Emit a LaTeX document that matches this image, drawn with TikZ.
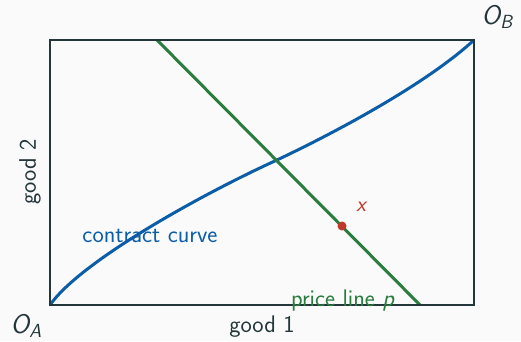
\documentclass[tikz,border=0pt]{standalone}
\definecolor{frame}{HTML}{23373B}
\definecolor{cblue}{HTML}{0B5DA8}
\definecolor{cgreen}{HTML}{2A7D3E}
\definecolor{cred}{HTML}{C0392B}
\definecolor{bg}{HTML}{FAFAFA}
\begin{document}
\begin{tikzpicture}[x=1pt,y=-1pt,
  lbl/.style={font=\sffamily\fontsize{24}{28}\selectfont, text=frame, inner sep=0pt},
  origin/.style={font=\sffamily\itshape\fontsize{27}{30}\selectfont, text=frame, inner sep=0pt}]
\useasboundingbox (0,0) rectangle (521,341);
\fill[bg] (0,0) rectangle (521,341);
\coordinate (oa) at (50,305);
\coordinate (ob) at (474,40);
\coordinate (p1) at (157,40);
\coordinate (p2) at (420,305);
\coordinate (m) at (277,160);
\draw[cblue, line width=3pt] (oa) .. controls (80,262) and (200,195) .. (m)
  .. controls (357,122) and (434,77) .. (ob);
\draw[cgreen, line width=3pt] (p1) -- (p2);
\draw[frame, line width=2pt] (oa) rectangle (ob);
\fill[cred] (342,226) circle (4.5pt) coordinate (x);
\node[text=cred, font=\sffamily\itshape\fontsize{22}{24}\selectfont, inner sep=0pt] (xl) at (361,207) {x};
\node[lbl, text=cblue] (cc) at (150,236) {contract curve};
\node[lbl, text=cgreen] (pl) at (343,301) {price line \textit{p}};
\node[lbl] (g1) at (262,327) {good 1};
\node[lbl, rotate=90] (g2) at (30,172) {good 2};
\node[origin] (OA) at (26,326) {O\raisebox{-0.3ex}{\fontsize{19}{21}\selectfont A}};
\node[origin] (OB) at (497,17) {O\raisebox{-0.3ex}{\fontsize{19}{21}\selectfont B}};
\end{tikzpicture}
\end{document}
